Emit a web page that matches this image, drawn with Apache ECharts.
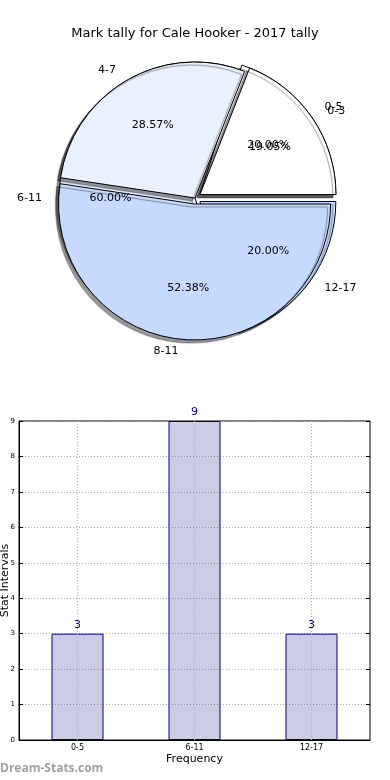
<!DOCTYPE html>
<html><head><meta charset="utf-8">
<script src="https://cdn.jsdelivr.net/npm/echarts@6/dist/echarts.min.js"></script>
<style>html,body{margin:0;padding:0;background:#fff}#c{width:390px;height:780px}</style>
</head><body><div id="c"></div>
<script>
// Pie A (finer intervals)
const pieACategories = ['0-3', '4-7', '8-11'];
const pieAValues = [4, 6, 11];
// Pie B / bar chart intervals
const pieBCategories = ['0-5', '6-11', '12-17'];
const pieBValues = [3, 9, 3];
const barCategories = ['0-5', '6-11', '12-17'];
const barValues = [3, 9, 3];
const yTicks = [0, 1, 2, 3, 4, 5, 6, 7, 8, 9];

const FONT = 'DejaVu Sans';
const R = 136;
const CENTER = [195, 198];
const sliceColors = ['#ffffff', '#eaf1fe', '#c6d9fe'];

function pieData(cats, vals, selectedIdx) {
  return cats.map((c, i) => ({
    name: c, value: vals[i],
    selected: selectedIdx.includes(i),
    itemStyle: { color: sliceColors[i] }
  }));
}

function mainPie(cats, vals, sel, z) {
  return {
    type: 'pie', center: CENTER, radius: R, startAngle: 0, clockwise: false,
    selectedMode: 'multiple', selectedOffset: 6, z: z, silent: true,
    animation: false, avoidLabelOverlap: false,
    labelLayout: { hideOverlap: false },
    data: pieData(cats, vals, sel),
    itemStyle: { borderColor: '#000', borderWidth: 1,
      shadowColor: 'rgba(0,0,0,0.4)', shadowBlur: 1, shadowOffsetX: -3, shadowOffsetY: 3 },
    label: { show: true, position: 'outside', formatter: '{b}', color: '#000',
      fontFamily: FONT, fontSize: 11, alignTo: 'none' },
    labelLine: { show: false, length: 12, length2: 0 },
    emphasis: { disabled: true }
  };
}
function pctPie(cats, vals, sel, z) {
  return {
    type: 'pie', center: CENTER, radius: R * 1.2, startAngle: 0, clockwise: false,
    selectedMode: 'multiple', selectedOffset: 6, z: z, silent: true, animation: false,
    avoidLabelOverlap: false, labelLayout: { hideOverlap: false },
    data: cats.map((c, i) => ({ name: c, value: vals[i], selected: sel.includes(i),
      itemStyle: { color: 'rgba(0,0,0,0)' } })),
    itemStyle: { borderWidth: 0, color: 'rgba(0,0,0,0)' },
    label: { show: true, position: 'inside', color: '#000', fontFamily: FONT, fontSize: 11,
      formatter: p => p.percent.toFixed(2) + '%' },
    labelLine: { show: false },
    emphasis: { disabled: true }
  };
}

const chart = echarts.init(document.getElementById('c'), null, { renderer: 'canvas' });
chart.setOption({
  backgroundColor: '#fff',
  animation: false,
  title: { text: 'Mark tally for Cale Hooker - 2017 tally', left: 'center', top: 22,
    textStyle: { fontFamily: FONT, fontSize: 13, fontWeight: 'normal', color: '#000' } },
  graphic: [{ type: 'text', left: 0, top: 763,
    style: { text: 'Dream-Stats.com', fill: '#a0a0a0', font: 'bold 12px "Open Sans"' } }],
  grid: { left: 19, right: 20, top: 421, bottom: 40, show: true, borderColor: '#000',
    borderWidth: 1, backgroundColor: 'transparent', containLabel: false, outerBoundsMode: 'none' },
  xAxis: [{
    type: 'category', data: barCategories, position: 'bottom',
    name: 'Frequency', nameLocation: 'middle', nameGap: 14, nameMoveOverlap: false,
    nameTextStyle: { fontFamily: FONT, fontSize: 11, color: '#000' },
    axisLine: { lineStyle: { color: '#000' } },
    axisTick: { inside: true, alignWithLabel: true, length: 4, lineStyle: { color: '#000' } },
    axisLabel: { fontFamily: FONT, fontSize: 8, color: '#000', margin: 4 },
    splitLine: { show: false }
  }, {
    type: 'category', data: barCategories, position: 'top',
    axisLine: { show: false },
    axisTick: { inside: true, alignWithLabel: true, length: 4, lineStyle: { color: '#000' } },
    axisLabel: { show: false }
  }],
  yAxis: [{
    type: 'value', min: 0, max: 9, interval: 1,
    name: 'Stat Intervals', nameLocation: 'middle', nameGap: 8, nameRotate: 90,
    nameMoveOverlap: false,
    nameTextStyle: { fontFamily: FONT, fontSize: 11, color: '#000' },
    axisLine: { show: true, lineStyle: { color: '#000' } },
    axisTick: { show: true, inside: true, length: 4, lineStyle: { color: '#000' } },
    axisLabel: { fontFamily: FONT, fontSize: 7, color: '#000', margin: 4,
      formatter: v => yTicks.includes(v) ? String(v) : '' },
    splitLine: { show: true, lineStyle: { color: '#b0b0b0', type: [1, 2], width: 1 } }
  }, {
    type: 'value', min: 0, max: 9, interval: 1, position: 'right',
    axisLine: { show: false },
    axisTick: { show: true, inside: true, length: 4, lineStyle: { color: '#000' } },
    axisLabel: { show: false }, splitLine: { show: false }
  }],
  series: [
    mainPie(pieBCategories, pieBValues, [0, 2], 2),
    mainPie(pieACategories, pieAValues, [0, 2], 3),
    pctPie(pieBCategories, pieBValues, [0, 2], 4),
    pctPie(pieACategories, pieAValues, [0, 2], 5),
    {
      type: 'bar', xAxisIndex: 0, yAxisIndex: 0, data: barValues, barWidth: 52,
      itemStyle: { color: 'rgba(0,0,128,0.2)', borderColor: '#000080', borderWidth: 1 },
      label: { show: true, position: 'top', color: '#000080', fontFamily: FONT, fontSize: 11, distance: 3 },
      markLine: { silent: true, symbol: 'none', animation: false,
        label: { show: false },
        lineStyle: { color: '#b0b0b0', type: [1, 2], width: 1 },
        data: barCategories.map(c => ({ xAxis: c })) }
    }
  ]
});
</script>
</body></html>
